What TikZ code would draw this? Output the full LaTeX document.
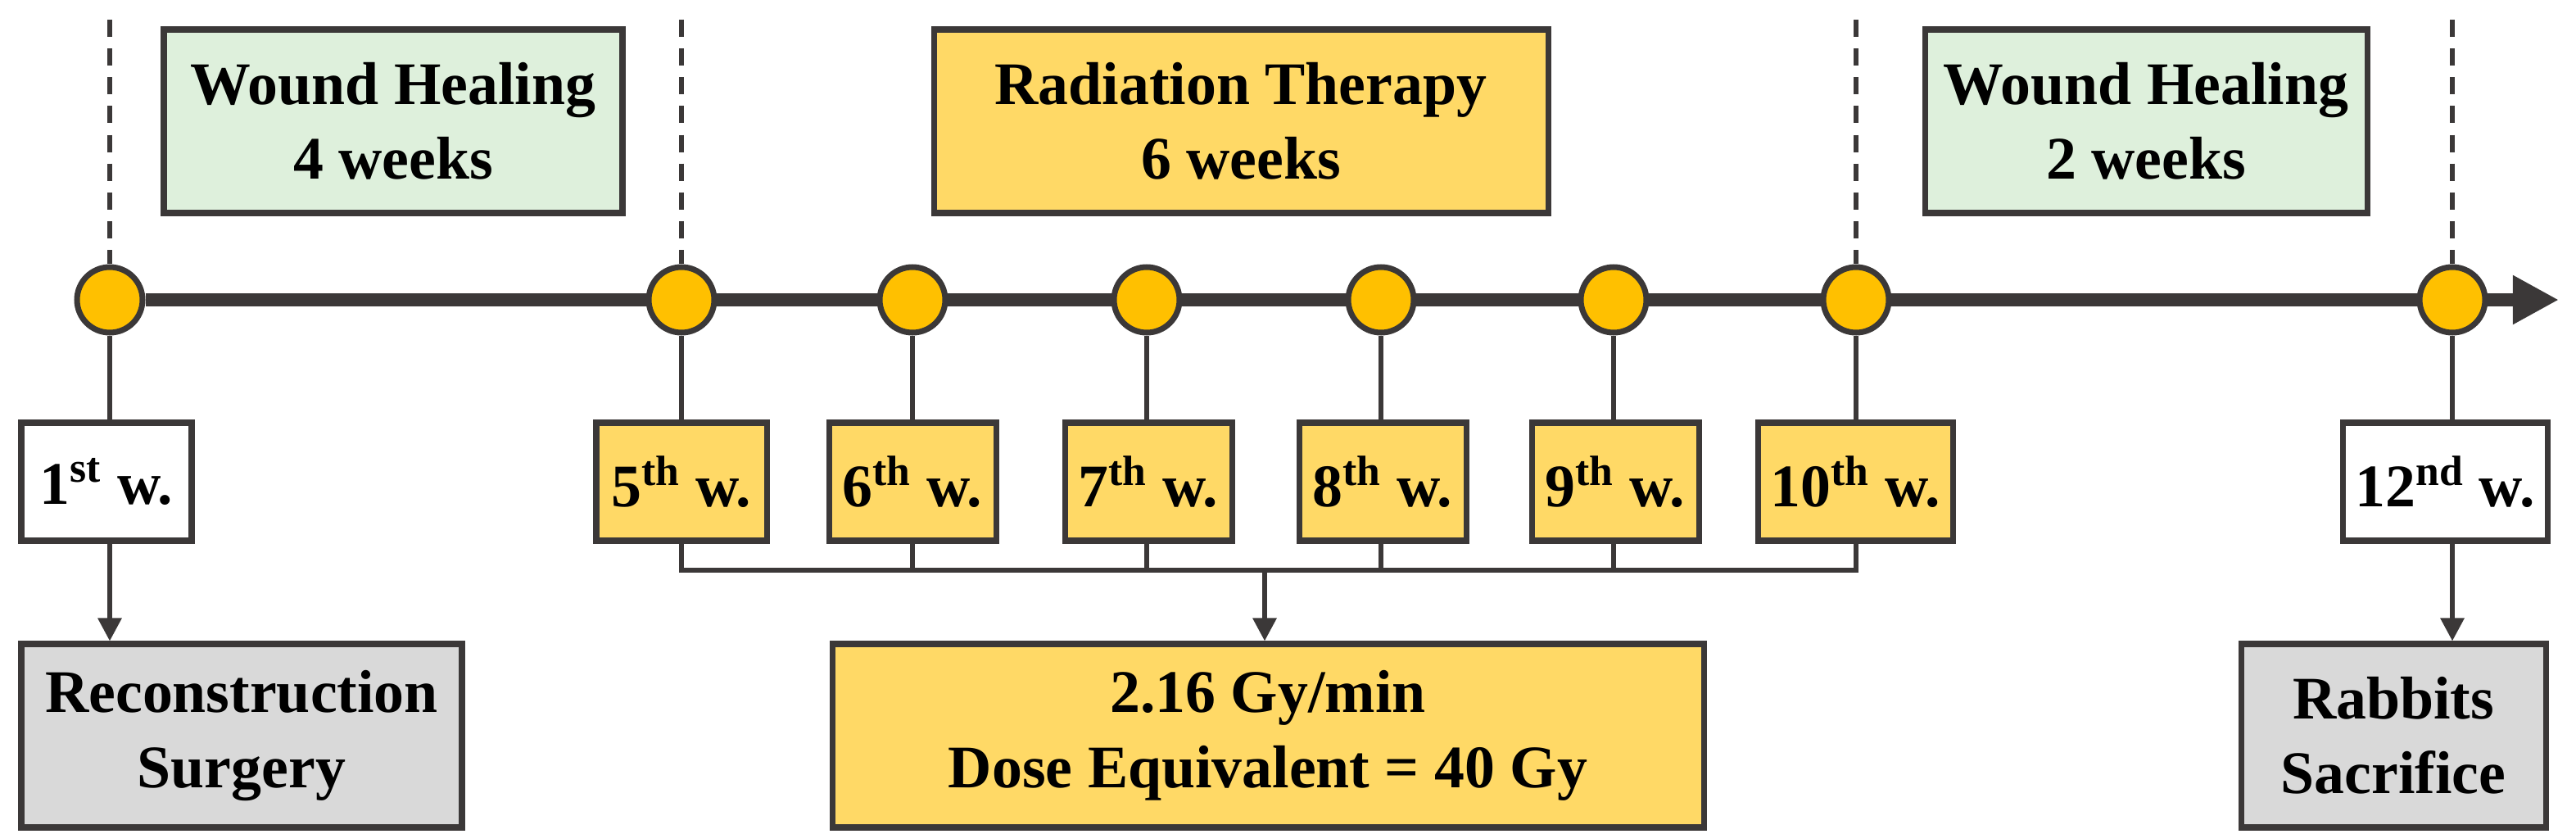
\documentclass[tikz,border=0pt]{standalone}
\usepackage{fontspec}
\setmainfont{Liberation Serif}
\usetikzlibrary{arrows.meta}
\definecolor{dk}{HTML}{3B3838}
\definecolor{gfill}{HTML}{DEF0DC}
\definecolor{yfill}{HTML}{FFD966}
\definecolor{cfill}{HTML}{FFC000}
\definecolor{grfill}{HTML}{D9D9D9}
\tikzset{
 bx/.style={draw=dk,line width=2pt,inner sep=0pt,align=center,font=\fontsize{21}{26}\selectfont\bfseries},
 dot/.style={circle,draw=dk,line width=2pt,fill=cfill,minimum size=0.8cm,inner sep=0pt},
 conn/.style={draw=dk,line width=1.7pt},
 dsh/.style={draw=dk,line width=1.7pt,dash pattern=on 6pt off 4pt},
}
\newcommand{\boxat}[6]{\node[bx,fill=#5,minimum width={(#2-#1)*0.02cm},minimum height={(#4-#3)*0.02cm}] (#6) at ({(#1+#2)/2},{(#3+#4)/2})}
\begin{document}
\begin{tikzpicture}[x=0.02cm,y=-0.02cm]
\useasboundingbox (0,0) rectangle (1572.5,508.5);
% top boxes
\boxat{100}{380}{18}{130}{gfill}{wh1} {Wound Healing\\4 weeks};
\boxat{570}{945}{18}{130}{yfill}{rt} {Radiation Therapy\\6 weeks};
\boxat{1175}{1445}{18}{130}{gfill}{wh2} {Wound Healing\\2 weeks};
% timeline
\coordinate (tend) at (1562,183);
\node[dot] (c1) at (67,183) {};
\draw[dk,line width=4.5pt,-{Triangle[length=16pt,width=16pt]}] (c1) -- (tend);
\foreach \n/\x in {c5/416,c6/557,c7/700,c8/843,c9/985,c10/1133,c12/1497}
  \node[dot] (\n) at (\x,183) {};
% dashed
\foreach \n/\x in {c1/67,c5/416,c10/1133,c12/1497}{
  \coordinate (t\n) at (\x,12);
  \draw[dsh] (t\n) -- (\n.north);}
% week boxes
\boxat{13}{117}{258}{330}{white}{w1} {1\textsuperscript{st} w.};
\boxat{364}{468}{258}{330}{yfill}{w5} {5\textsuperscript{th} w.};
\boxat{506}{608}{258}{330}{yfill}{w6} {6\textsuperscript{th} w.};
\boxat{650}{752}{258}{330}{yfill}{w7} {7\textsuperscript{th} w.};
\boxat{793}{895}{258}{330}{yfill}{w8} {8\textsuperscript{th} w.};
\boxat{935}{1037}{258}{330}{yfill}{w9} {9\textsuperscript{th} w.};
\boxat{1073}{1192}{258}{330}{yfill}{w10} {10\textsuperscript{th} w.};
\boxat{1430}{1555}{258}{330}{white}{w12} {12\textsuperscript{nd} w.};
% bottom boxes
\boxat{13}{282}{393}{505}{grfill}{rs} {Reconstruction\\Surgery};
\boxat{508}{1040}{393}{505}{yfill}{dose} {2.16 Gy/min\\Dose Equivalent = 40 Gy};
\boxat{1368}{1554}{393}{505}{grfill}{rab} {Rabbits\\Sacrifice};
% stems
\foreach \c/\w in {c1/w1,c5/w5,c6/w6,c7/w7,c8/w8,c9/w9,c10/w10,c12/w12}
  \draw[conn] (\c.south) -- (\c |- \w.north);
\draw[conn,-{Triangle[length=8pt,width=8pt]}] (c1 |- w1.south) -- (c1 |- rs.north);
\draw[conn,-{Triangle[length=8pt,width=8pt]}] (c12 |- w12.south) -- (c12 |- rab.north);
% bracket
\coordinate (bl) at (416,348);
\coordinate (br) at (1133,348);
\coordinate (bm) at (772,348);
\draw[conn] (c5 |- w5.south) |- (bl) -- (br) -| (c10 |- w10.south);
\foreach \c/\w in {c6/w6,c7/w7,c8/w8,c9/w9} \draw[conn] (\c |- \w.south) -- (\c |- bl);
\draw[conn,-{Triangle[length=8pt,width=8pt]}] (bm) -- (dose.north -| bm);
\end{tikzpicture}
\end{document}
